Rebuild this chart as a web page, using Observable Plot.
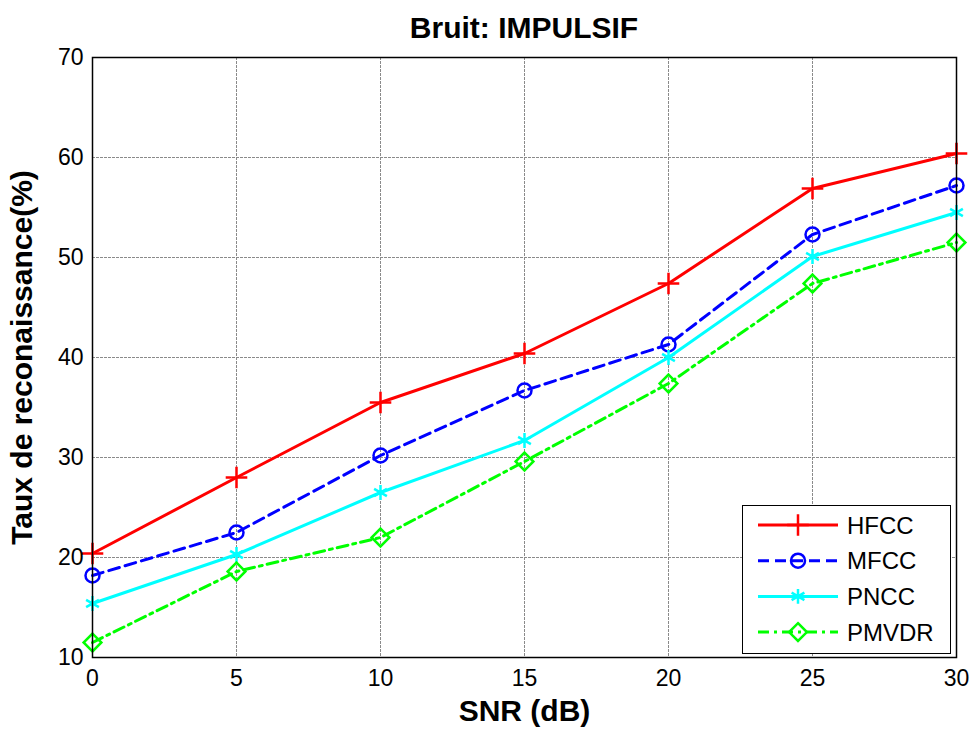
<!DOCTYPE html>
<html>
<head>
<meta charset="utf-8">
<script src="https://cdn.jsdelivr.net/npm/d3@7"></script>
<script src="https://cdn.jsdelivr.net/npm/@observablehq/plot@0.6"></script>
<style>
  html, body { margin: 0; padding: 0; background: #fff; }
  #wrap { position: relative; width: 976px; height: 731px; font-family: "Liberation Sans", Arial, sans-serif; }
  #title { height: 45px; line-height: 56px; text-align: center; font-weight: bold; font-size: 30px; color: #000; padding-left: 72px; box-sizing: border-box; overflow: visible; white-space: nowrap; }
  #legend { position: absolute; left: 742px; top: 505px; width: 209px; height: 149px; box-sizing: border-box; border: 1.5px solid #000; background: #fff; }
</style>
</head>
<body>
<div id="wrap">
  <div id="title"></div>
  <div id="chart"></div>
  <div id="legend"></div>
</div>
<script>
// ---- data ----
const titleText = "Bruit: IMPULSIF";
const xLabel = "SNR (dB)";
const yLabel = "Taux de reconaissance(%)";
const snr = [0, 5, 10, 15, 20, 25, 30];
const hfcc  = [20.4, 28.0, 35.5, 40.4, 47.4, 56.9, 60.4];
const mfcc  = [18.2, 22.5, 30.2, 36.7, 41.3, 52.3, 57.2];
const pncc  = [15.4, 20.3, 26.5, 31.7, 40.0, 50.1, 54.5];
const pmvdr = [11.5, 18.6, 22.0, 29.6, 37.4, 47.4, 51.5];
const xTicks = [0, 5, 10, 15, 20, 25, 30];
const yTicks = [10, 20, 30, 40, 50, 60, 70];

const seriesNames = ["HFCC", "MFCC", "PNCC", "PMVDR"];
const seriesValues = [hfcc, mfcc, pncc, pmvdr];
const seriesColors = ["#ff0000", "#0000ff", "#00ffff", "#00ff00"];
const seriesDash = [null, "11,6", null, "11,5,3,5"];
const seriesSymbols = ["plus", "circle", "asterisk", "diamond2"];
const seriesR = [7, 7, 7, 8];

document.getElementById("title").textContent = titleText;

const data = seriesNames.flatMap((name, i) =>
  snr.map((x, j) => ({ series: name, snr: x, value: seriesValues[i][j] }))
);

const FONT = "Liberation Sans, Arial, sans-serif";

const marks = [
  Plot.gridX(xTicks, { stroke: "#8a8a8a", strokeOpacity: 1, strokeWidth: 1, strokeDasharray: "3,1" }),
  Plot.gridY(yTicks, { stroke: "#8a8a8a", strokeOpacity: 1, strokeWidth: 1, strokeDasharray: "3,1" }),
];
seriesNames.forEach((name, i) => {
  const d = data.filter(r => r.series === name);
  marks.push(Plot.line(d, { x: "snr", y: "value", stroke: seriesColors[i], strokeWidth: 3, strokeDasharray: seriesDash[i] || undefined }));
  marks.push(Plot.dot(d, { x: "snr", y: "value", symbol: () => seriesSymbols[i], r: seriesR[i], stroke: seriesColors[i], fill: "none", strokeWidth: 2.5 }));
});
marks.push(
  Plot.frame({ stroke: "#000", strokeWidth: 1.5 }),
  Plot.axisX(xTicks, { anchor: "bottom", tickSize: 0, tickPadding: 12, fontSize: 23, label: null }),
  Plot.axisY(yTicks, { anchor: "left", tickSize: 0, tickPadding: 9, fontSize: 23, label: null }),
  Plot.text([xLabel], { frameAnchor: "bottom", dy: 54, lineAnchor: "middle", fontSize: 30, fontWeight: "bold", fill: "#000" }),
  Plot.text([yLabel], { frameAnchor: "left", dx: -70, rotate: -90, textAnchor: "middle", lineAnchor: "middle", fontSize: 30, fontWeight: "bold", fill: "#000" })
);

const chart = Plot.plot({
  width: 976,
  height: 686,
  marginLeft: 92,
  marginRight: 20,
  marginTop: 12,
  marginBottom: 74,
  style: { fontFamily: FONT, color: "#000", background: "#fff", overflow: "visible" },
  x: { domain: [0, 30] },
  y: { domain: [10, 70] },
  symbol: { type: "identity" },
  marks
});
document.getElementById("chart").appendChild(chart);

// ---- legend ----
const symMap = { plus: d3.symbolPlus, circle: d3.symbolCircle, asterisk: d3.symbolAsterisk, diamond2: d3.symbolDiamond2 };
const lg = d3.select("#legend").append("svg").attr("width", 206).attr("height", 146);
seriesNames.forEach((name, i) => {
  const y = 19 + i * 35.7;
  lg.append("line").attr("x1", 15).attr("x2", 95).attr("y1", y).attr("y2", y)
    .attr("stroke", seriesColors[i]).attr("stroke-width", 3)
    .attr("stroke-dasharray", seriesDash[i] || null);
  lg.append("path").attr("transform", `translate(55,${y})`)
    .attr("d", d3.symbol(symMap[seriesSymbols[i]], Math.PI * seriesR[i] * seriesR[i])())
    .attr("fill", "none").attr("stroke", seriesColors[i]).attr("stroke-width", 2.5);
  lg.append("text").attr("x", 104).attr("y", y).attr("dy", "0.36em")
    .attr("font-family", FONT).attr("font-size", 24).attr("fill", "#000").text(name);
});
</script>
</body>
</html>
